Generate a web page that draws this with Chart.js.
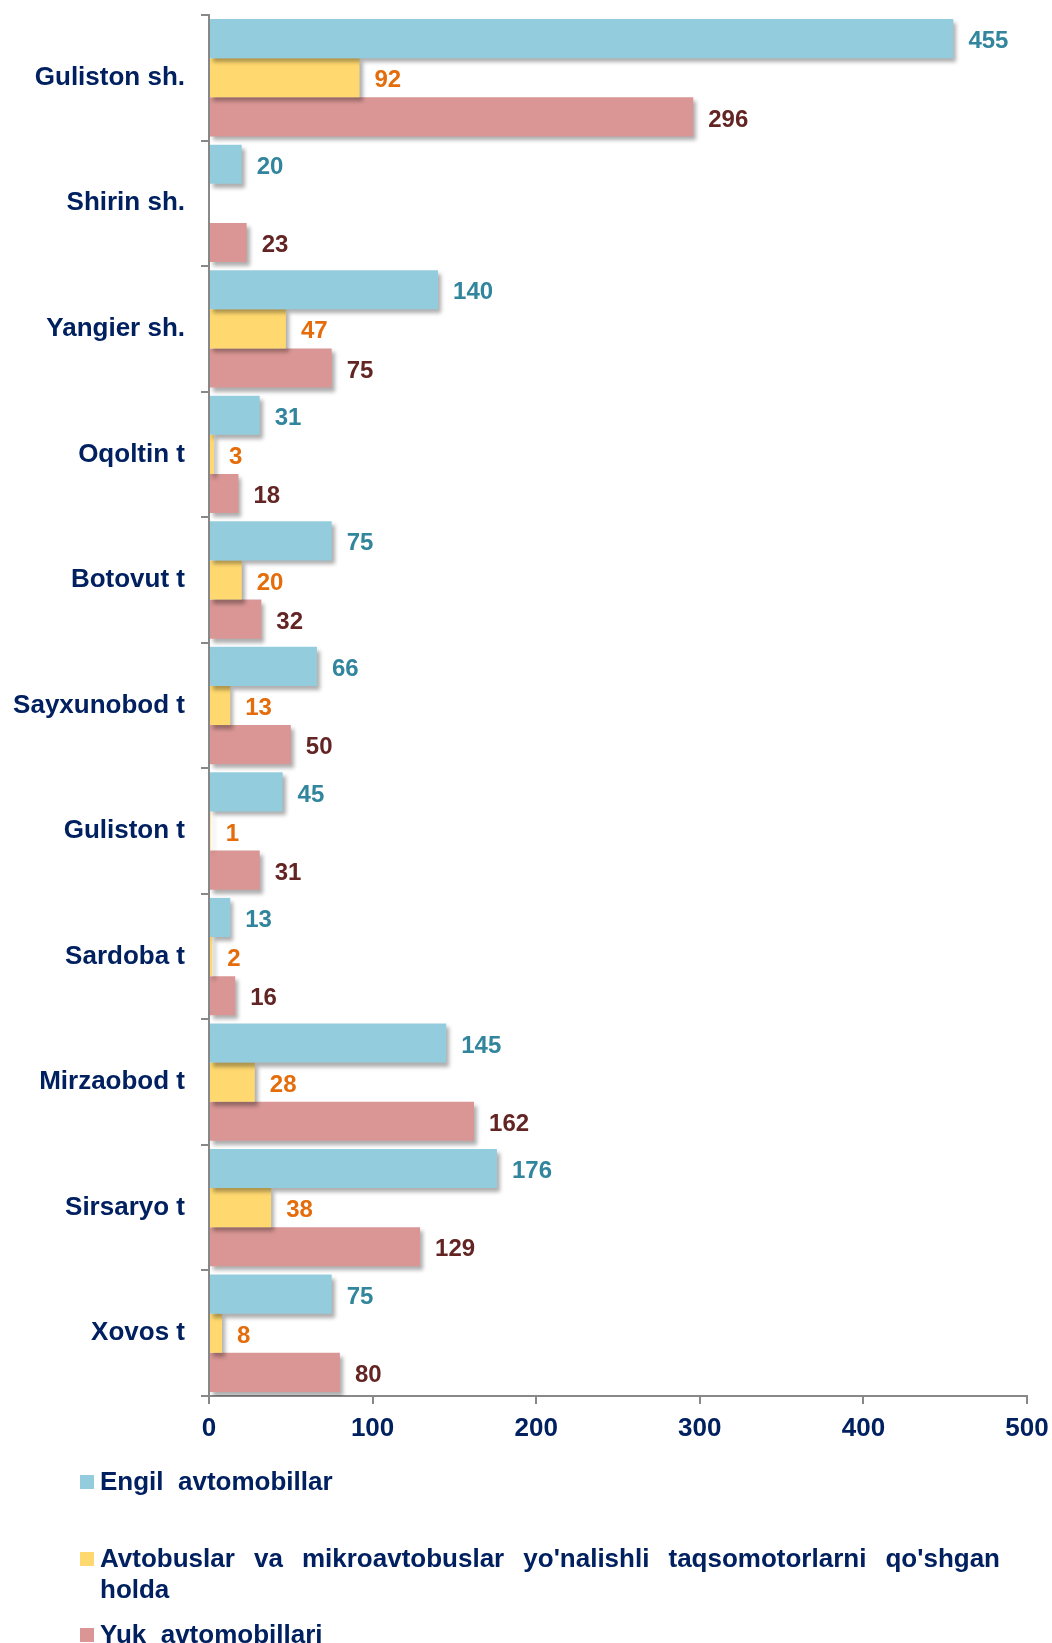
<!DOCTYPE html>
<html>
<head>
<meta charset="utf-8">
<script src="https://cdn.jsdelivr.net/npm/chart.js@4.4.1/dist/chart.umd.min.js"></script>
<style>
  html, body { margin: 0; padding: 0; background: #fff; }
  #wrap { position: relative; width: 1052px; height: 1643px; overflow: hidden; }
  #chart { position: absolute; left: 0; top: 0; }
  .legend { position: absolute; left: 80px; width: 920px; font: bold 26px "Liberation Sans", Arial, sans-serif; color: #002060; }
  .legend .item { position: absolute; left: 0; width: 920px; display: flex; align-items: flex-start; }
  .legend .sw { flex: 0 0 14px; height: 14px; margin: 9px 6px 0 0; }
  .legend .txt { flex: 1; text-align: justify; line-height: 31px; }
</style>
</head>
<body>
<div id="wrap">
  <canvas id="chart" width="1052" height="1643"></canvas>
  <div class="legend" id="legend" style="top:0"></div>
</div>
<script>
const categories = ['Guliston sh.', 'Shirin sh.', 'Yangier sh.', 'Oqoltin t', 'Botovut t',
  'Sayxunobod t', 'Guliston t', 'Sardoba t', 'Mirzaobod t', 'Sirsaryo t', 'Xovos t'];
const seriesNames = ['Engil  avtomobillar',
  "Avtobuslar va mikroavtobuslar yo'nalishli taqsomotorlarni qo'shgan holda",
  'Yuk  avtomobillari'];
const cars   = [455, 20, 140, 31, 75, 66, 45, 13, 145, 176, 75];
const buses  = [92, null, 47, 3, 20, 13, 1, 2, 28, 38, 8];
const trucks = [296, 23, 75, 18, 32, 50, 31, 16, 162, 129, 80];
const xTicks = [0, 100, 200, 300, 400, 500];

const fills  = ['#93CDDD', '#FFD96F', '#D99694'];
const labelColors = ['#31859C', '#E46C0A', '#632523'];
const navy = '#002060';
const axisGray = '#888888';
const FONT = "'Liberation Sans', Arial, sans-serif";

// drop shadow under bars + value labels at the bar ends
const barDecor = {
  id: 'barDecor',
  beforeDatasetsDraw(chart) {
    const ctx = chart.ctx;
    ctx.save();
    ctx.shadowColor = 'rgba(0,0,0,0.32)';
    ctx.shadowBlur = 4;
    ctx.shadowOffsetX = 3;
    ctx.shadowOffsetY = 4;
  },
  afterDatasetsDraw(chart) {
    const ctx = chart.ctx;
    ctx.restore();
    ctx.save();
    ctx.font = 'bold 24px ' + FONT;
    ctx.textAlign = 'left';
    ctx.textBaseline = 'middle';
    chart.data.datasets.forEach((ds, i) => {
      const meta = chart.getDatasetMeta(i);
      ctx.fillStyle = labelColors[i];
      meta.data.forEach((bar, j) => {
        const v = ds.data[j];
        if (v === null || v === undefined) return;
        ctx.fillText(String(v), bar.x + 15, bar.y + 3);
      });
    });
    ctx.restore();
  }
};

const datasets = [cars, buses, trucks].map((d, i) => ({
  label: seriesNames[i],
  data: d,
  backgroundColor: fills[i],
  borderWidth: 0,
  categoryPercentage: 0.935,
  barPercentage: 1
}));

new Chart(document.getElementById('chart'), {
  type: 'bar',
  data: { labels: categories, datasets },
  options: {
    indexAxis: 'y',
    responsive: false,
    animation: false,
    devicePixelRatio: 1,
    layout: { padding: { top: 15, right: 25, bottom: 187, left: 0 } },
    plugins: { legend: { display: false }, tooltip: { enabled: false } },
    scales: {
      y: {
        afterFit: s => { s.width = 209; s.paddingTop = 0; s.paddingBottom = 0; },
        grid: { offset: true, drawOnChartArea: false, tickLength: 8, color: axisGray, lineWidth: 2 },
        border: { color: axisGray, width: 2 },
        ticks: { color: navy, font: { family: FONT, size: 26, weight: 'bold' }, padding: 16 }
      },
      x: {
        min: 0, max: 500,
        afterFit: s => { s.height = 60; s.paddingLeft = 0; s.paddingRight = 0; },
        afterBuildTicks: s => { s.ticks = xTicks.map(v => ({ value: v })); },
        grid: { drawOnChartArea: false, tickLength: 8, color: axisGray, lineWidth: 2 },
        border: { color: axisGray, width: 2 },
        ticks: { color: navy, font: { family: FONT, size: 26, weight: 'bold' }, padding: 9 }
      }
    }
  },
  plugins: [barDecor]
});

// legend entries below the axis
const legendTops = [1466, 1543, 1619];
const legend = document.getElementById('legend');
seriesNames.forEach((name, i) => {
  const item = document.createElement('div');
  item.className = 'item';
  item.style.top = legendTops[i] + 'px';
  const sw = document.createElement('div');
  sw.className = 'sw';
  sw.style.background = fills[i];
  const txt = document.createElement('div');
  txt.className = 'txt';
  txt.textContent = name;
  txt.style.whiteSpace = 'pre-wrap';
  item.appendChild(sw);
  item.appendChild(txt);
  legend.appendChild(item);
});
</script>
</body>
</html>
